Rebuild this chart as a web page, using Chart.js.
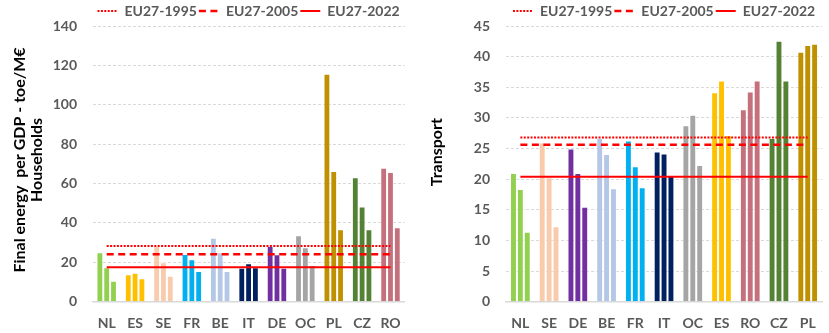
<!DOCTYPE html>
<html>
<head>
<meta charset="utf-8">
<script src="https://cdn.jsdelivr.net/npm/chart.js@4/dist/chart.umd.min.js"></script>
<style>
  html, body { margin: 0; padding: 0; background: #ffffff; }
  #wrap { position: relative; width: 829px; height: 333px; }
  canvas { position: absolute; top: 0; }
  #hh { left: 0; }
  #tr { left: 414px; }
</style>
</head>
<body>
<div id="wrap">
  <canvas id="hh" width="414" height="333"></canvas>
  <canvas id="tr" width="415" height="333"></canvas>
</div>
<script>
// Households: final energy per GDP (toe/M€)
const hhCategories = ['NL', 'ES', 'SE', 'FR', 'BE', 'IT', 'DE', 'OC', 'PL', 'CZ', 'RO'];
const hh1995 = [25.1, 13.9, 28.3, 24.2, 32.5, 17.3, 28.3, 33.7, 115.8, 63.2, 68.0];
const hh2005 = [17.5, 14.7, 20.0, 21.5, 25.1, 19.5, 24.1, 27.6, 66.4, 48.3, 65.8];
const hh2022 = [10.7, 11.9, 13.2, 15.6, 15.6, 17.5, 17.3, 18.6, 36.8, 36.8, 37.8];
const hhEU1995 = 28.3;
const hhEU2005 = 24.1;
const hhEU2022 = 17.5;
const hhTicks = { min: 0, max: 140, step: 20 };

// Transport: final energy per GDP (toe/M€)
const trCategories = ['NL', 'SE', 'DE', 'BE', 'FR', 'IT', 'OC', 'ES', 'RO', 'CZ', 'PL'];
const tr1995 = [21.0, 26.0, 25.0, 26.7, 26.3, 24.5, 28.8, 34.2, 31.4, 26.7, 40.8];
const tr2005 = [18.4, 20.3, 21.0, 24.1, 22.1, 24.2, 30.5, 36.1, 34.3, 42.6, 41.9];
const tr2022 = [11.4, 12.3, 15.5, 18.5, 18.7, 20.7, 22.3, 27.2, 36.1, 36.1, 42.1];
const trEU1995 = 26.8;
const trEU2005 = 25.6;
const trEU2022 = 20.4;
const trTicks = { min: 0, max: 45, step: 5 };

// One colour per country, shared by its three bars
const countryColors = {
  NL: '#92D050', ES: '#FFC000', SE: '#F8CBAD', FR: '#00B0F0', BE: '#B4C7E7',
  IT: '#002060', DE: '#7030A0', OC: '#A5A5A5', PL: '#BF9000', CZ: '#548235', RO: '#C5707D'
};

Chart.defaults.font.family = 'Lato, "Liberation Sans", sans-serif';

// Lets the legend sit closer to the plot than its default fitted height allows
const legendHeight = {
  id: 'legendHeight',
  beforeLayout(chart, args, opts) {
    const lg = chart.legend;
    if (lg && !lg._heightPatched) {
      const fit = lg.fit;
      lg.fit = function () { fit.call(this); this.height = opts.height; };
      lg._heightPatched = true;
    }
  }
};

function barSet(label, values, cats) {
  return {
    type: 'bar', label, data: values,
    backgroundColor: cats.map(c => countryColors[c]),
    borderColor: 'rgba(255,255,255,0.55)', borderWidth: 1,
    barPercentage: 1, categoryPercentage: 0.72, order: 2
  };
}

function euLine(label, value, cats, dash, width) {
  return {
    type: 'line', label, data: cats.map(() => value),
    borderColor: '#FF0000', backgroundColor: '#FF0000', borderWidth: width,
    borderDash: dash, borderCapStyle: 'butt', pointRadius: 0, pointHoverRadius: 0,
    fill: false, tension: 0, order: 1
  };
}

function makeChart(id, cats, s1995, s2005, s2022, eu, ticks, titleText, geo) {
  return new Chart(document.getElementById(id), {
    type: 'bar',
    data: {
      labels: cats,
      datasets: [
        euLine('EU27-1995', eu[0], cats, [2, 1.4], 2),
        euLine('EU27-2005', eu[1], cats, [7, 4.5], 2.5),
        euLine('EU27-2022', eu[2], cats, [], 2),
        barSet('1995', s1995, cats),
        barSet('2005', s2005, cats),
        barSet('2022', s2022, cats)
      ]
    },
    options: {
      responsive: false,
      devicePixelRatio: 1,
      animation: false,
      layout: { padding: { left: geo.padLeft, right: geo.padRight, top: 2, bottom: 0 } },
      plugins: {
        legendHeight: { height: 24 },
        tooltip: { enabled: false },
        legend: {
          position: 'top',
          fullSize: false,
          labels: {
            usePointStyle: true,
            pointStyleWidth: 20,
            padding: 2,
            color: '#595959',
            font: { size: 14, weight: 'bold' },
            generateLabels(chart) {
              return chart.data.datasets
                .map((ds, i) => ({ ds, i }))
                .filter(o => o.ds.type === 'line')
                .map(o => ({
                  text: o.ds.label,
                  strokeStyle: o.ds.borderColor,
                  fillStyle: 'rgba(0,0,0,0)',
                  lineWidth: o.ds.borderWidth,
                  lineDash: o.ds.borderDash,
                  lineCap: 'butt',
                  pointStyle: 'line',
                  fontColor: '#595959',
                  hidden: false,
                  datasetIndex: o.i
                }));
            }
          }
        }
      },
      scales: {
        x: {
          grid: { display: false, drawTicks: false },
          border: { display: true, color: '#D9D9D9', width: 1.5 },
          ticks: { color: '#595959', padding: 13, font: { size: 14, weight: 'bold' } },
          afterFit(s) { s.height = 31.3; }
        },
        y: {
          min: ticks.min, max: ticks.max,
          grid: { color: '#D9D9D9', lineWidth: 1, drawTicks: false },
          border: { display: false, dash: [3, 2] },
          ticks: { stepSize: ticks.step, color: '#595959', padding: geo.tickPad, font: { size: 14, weight: 'bold' } },
          title: {
            display: true, text: titleText, color: '#000000',
            font: { size: 16, weight: 'bold', lineHeight: 1.06 },
            padding: { top: 0, bottom: 0 }
          },
          afterFit(s) { s.width = geo.axisWidth; }
        }
      }
    },
    plugins: [legendHeight]
  });
}

makeChart('hh', hhCategories, hh1995, hh2005, hh2022,
  [hhEU1995, hhEU2005, hhEU2022], hhTicks,
  ['  Final energy  per GDP - toe/M€', '  Households'],
  { padLeft: 11.5, padRight: 1.4, axisWidth: 81, tickPad: 15.5 });

makeChart('tr', trCategories, tr1995, tr2005, tr2022,
  [trEU1995, trEU2005, trEU2022], trTicks,
  '      Transport',
  { padLeft: 14.2, padRight: 1, axisWidth: 77.8, tickPad: 16 });
</script>
</body>
</html>
